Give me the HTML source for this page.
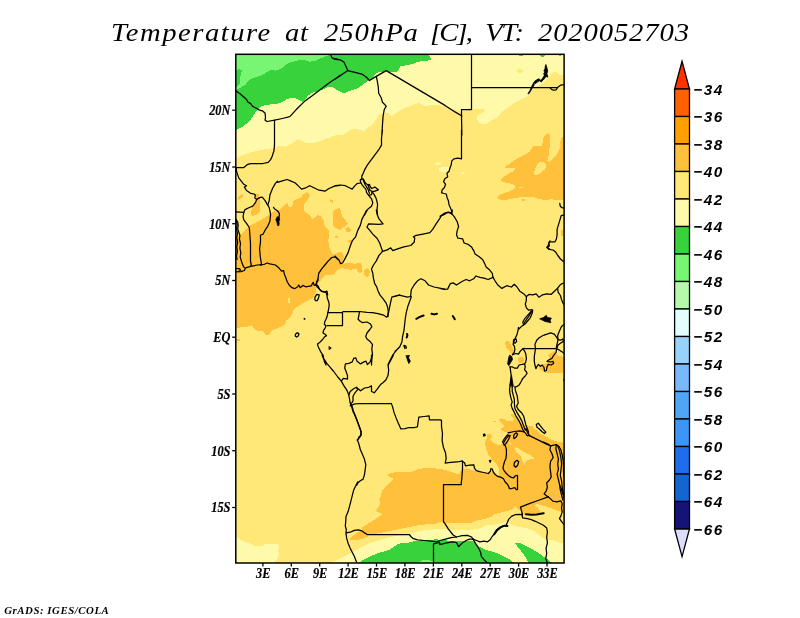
<!DOCTYPE html>
<html><head><meta charset="utf-8"><title>Temperature at 250hPa</title>
<style>
html,body{margin:0;padding:0;background:#fff;}
body{width:800px;height:618px;overflow:hidden;position:relative;font-family:"Liberation Serif",serif;}
svg{position:absolute;left:0;top:0;will-change:transform;}
.ttl{font-family:"Liberation Serif",serif;font-style:italic;font-size:25.6px;fill:#000;}
.tk text{font-family:"Liberation Serif",serif;font-style:italic;font-weight:bold;font-size:14px;fill:#000;stroke:#000;stroke-width:0.2px;}
.cb text{font-family:"Liberation Sans",sans-serif;font-style:italic;font-weight:bold;font-size:15.3px;letter-spacing:1.5px;fill:#000;}
.ft{font-family:"Liberation Serif",serif;font-style:italic;font-weight:bold;font-size:10.8px;letter-spacing:0.55px;fill:#000;}
</style></head>
<body>
<svg width="800" height="618" viewBox="0 0 800 618">
<defs><clipPath id="mc"><rect x="235.8" y="54.3" width="328.3" height="508.7"/></clipPath></defs>
<rect x="0" y="0" width="800" height="618" fill="#fff"/>
<text class="ttl" transform="translate(111.00,41.3) scale(1.12,1)" style="letter-spacing:1.339px">Temperature</text>
<text class="ttl" transform="translate(285.00,41.3) scale(1.12,1)" style="letter-spacing:0.696px">at</text>
<text class="ttl" transform="translate(324.00,41.3) scale(1.12,1)" style="letter-spacing:0.857px">250hPa</text>
<text class="ttl" transform="translate(430.00,41.3) scale(1.12,1)" style="letter-spacing:-1.679px">[C],</text>
<text class="ttl" transform="translate(485.20,41.3) scale(1.12,1)" style="letter-spacing:-1.187px">VT:</text>
<text class="ttl" transform="translate(538.00,41.3) scale(1.12,1)" style="letter-spacing:0.768px">2020052703</text>
<g clip-path="url(#mc)">
<rect x="235.8" y="54.3" width="328.3" height="508.7" fill="#ffe878"/>
<g shape-rendering="crispEdges">
<polygon fill="#fffaaa" points="235.8,54.4 564.6,54.4 565.0,75.4 563.0,75.4 558.9,74.8 556.1,72.0 553.3,72.0 550.6,75.4 547.2,79.6 543.0,83.7 537.5,86.5 533.4,89.2 530.0,94.0 525.2,97.5 519.6,100.2 514.1,103.0 510.0,106.4 505.9,109.1 501.8,111.9 499.0,116.0 494.9,118.8 490.8,120.8 486.6,123.6 481.1,123.6 477.7,121.5 477.0,117.4 478.4,114.6 483.9,111.9 485.3,109.1 479.8,108.5 471.5,108.9 461.9,111.9 456.7,110.5 450.2,107.4 445.0,105.7 431.3,105.0 425.8,106.4 418.9,103.0 412.0,105.0 399.6,110.5 391.4,116.0 388.0,112.6 379.0,114.6 374.9,121.5 364.6,131.2 352.9,128.4 343.3,135.0 336.2,135.0 327.7,138.2 319.2,141.4 310.7,143.5 304.4,142.4 298.0,139.2 291.6,143.5 285.2,146.7 278.9,145.6 272.5,148.2 261.9,149.9 251.2,152.0 242.7,155.2 236.4,158.4 235.8,158.4"/>
<polygon fill="#37d23c" points="235.8,54.4 428.3,54.1 431.1,59.6 426.3,61.0 418.0,61.7 413.9,63.8 407.0,65.1 400.2,66.5 398.8,69.3 396.0,72.0 390.5,72.0 386.4,70.6 383.0,72.7 380.9,72.0 377.5,72.7 374.7,74.8 372.6,78.2 368.5,80.3 363.0,84.4 357.5,88.5 350.6,90.6 343.8,93.3 335.9,89.2 331.8,87.1 327.7,87.1 323.5,89.2 318.0,91.3 312.5,92.6 308.4,95.4 305.0,99.5 302.9,102.0 298.8,100.2 296.0,98.4 290.5,98.1 286.4,99.5 282.3,102.0 276.8,103.9 271.3,104.3 265.8,105.0 260.3,106.7 256.8,110.5 254.1,114.6 250.6,119.5 246.5,123.6 242.4,127.0 238.3,129.1 235.8,130.1"/>
<polygon fill="#78f573" points="235.8,54.4 330.4,54.5 326.3,56.2 320.8,58.3 315.3,61.0 309.8,61.7 305.7,60.3 301.5,59.9 296.0,61.0 290.5,62.4 286.4,64.4 282.3,67.9 278.1,69.9 275.4,70.6 271.3,69.9 267.1,72.0 263.0,74.8 257.5,76.8 252.0,78.2 248.6,80.9 245.8,84.4 242.4,86.5 238.9,88.5 235.8,90.2"/>
<polygon fill="#37d23c" points="235.5,69.9 239.6,69.3 241.7,70.6 241.0,74.1 240.3,77.5 240.3,82.3 238.3,85.8 235.5,87.1"/>
<polygon fill="#37d23c" points="519.0,54.5 523.1,54.5 522.4,55.8 519.6,55.8"/>
<polygon fill="#37d23c" points="538.9,54.5 545.8,54.5 544.4,56.6 541.0,56.6"/>
<polygon fill="#37d23c" points="558.9,54.5 561.6,54.5 560.9,55.8 559.3,55.8"/>
<polygon fill="#ffe878" points="516.2,69.9 519.6,69.0 523.1,70.6 522.4,72.7 518.3,72.7"/>
<polygon fill="#ffc03c" points="235.5,235.0 241.0,234.3 245.1,230.9 248.6,226.1 253.4,224.0 258.9,221.3 264.4,217.8 268.5,215.1 271.3,213.0 275.4,210.9 279.5,209.6 282.3,206.8 285.0,204.8 287.8,202.7 288.5,206.1 290.5,207.5 292.6,204.8 292.6,201.3 296.0,199.3 300.2,197.9 302.9,195.1 305.7,192.4 308.4,192.7 309.8,195.1 308.4,198.6 305.7,202.0 303.6,206.1 303.6,209.6 305.7,212.3 308.4,214.4 311.2,217.1 312.5,219.2 315.3,217.1 318.0,215.1 320.8,216.5 323.5,219.9 323.5,224.0 326.3,227.5 329.0,230.9 329.0,235.0 328.3,240.5 329.0,246.0 330.4,250.2 332.5,254.3 331.3,254.6 335.4,253.9 338.8,251.8 342.3,252.5 344.3,255.9 343.0,260.1 342.3,263.5 345.0,263.5 350.5,262.8 354.6,264.2 356.7,262.8 360.2,262.8 362.2,266.3 362.2,271.1 360.2,273.8 357.4,270.4 356.0,269.0 350.5,269.7 345.0,269.0 340.9,267.6 336.8,270.4 334.7,273.8 331.3,275.2 327.1,274.5 323.7,276.6 320.9,280.0 318.9,282.8 316.8,286.2 316.1,290.3 315.4,293.8 312.7,297.9 307.9,300.7 302.4,303.4 298.3,306.2 294.1,308.9 292.6,312.3 290.5,317.1 286.4,320.5 285.0,324.6 279.5,327.4 274.0,329.5 269.9,332.2 269.2,335.4 265.8,335.0 263.0,331.5 257.5,330.8 254.1,328.8 252.0,325.3 247.9,326.7 241.0,327.4 235.5,328.1"/>
<polygon fill="#ffc03c" points="237.6,197.2 243.1,193.8 243.8,195.1 240.3,199.3 237.6,199.9"/>
<polygon fill="#ffc03c" points="250.6,211.6 252.7,206.8 255.4,202.7 257.5,200.6 256.1,197.2 255.4,194.4 258.9,193.8 259.6,197.2 259.6,202.7 260.3,207.5 259.6,212.3 256.1,215.1 252.0,216.0 250.6,213.7"/>
<polygon fill="#ffc03c" points="329.7,199.3 333.2,199.9 332.5,202.7 330.4,202.0"/>
<polygon fill="#ffc03c" points="333.2,211.6 335.9,208.9 339.8,208.2 341.2,212.3 341.9,216.5 345.3,219.9 348.1,224.0 345.3,226.1 342.6,227.5 340.5,230.2 340.0,229.5 335.9,228.1 333.2,225.4 332.5,221.3"/>
<polygon fill="#ffc03c" points="345.3,228.1 348.8,227.5 351.5,229.5 350.1,232.3 346.0,232.0"/>
<polygon fill="#ffc03c" points="348.1,240.5 353.6,239.8 352.9,243.3 348.8,243.3"/>
<polygon fill="#ffc03c" points="335.2,235.7 338.0,235.7 338.0,237.8 335.2,237.8"/>
<polygon fill="#ffe878" points="288.5,202.7 291.9,202.0 291.9,206.8 289.1,207.5"/>
<polygon fill="#ffe878" points="287.8,298.5 289.8,298.2 289.8,302.6 287.5,303.7"/>
<polygon fill="#ffc03c" points="365.0,269.0 367.7,268.3 369.8,271.1 369.1,275.9 366.3,277.3 364.3,274.5 364.3,271.1"/>
<polygon fill="#ffc03c" points="332.6,225.0 336.8,227.8 339.5,229.8 343.0,227.8 345.0,225.0"/>
<polygon fill="#ffc03c" points="345.7,227.8 349.1,227.1 351.2,229.8 349.1,232.6 345.7,231.2"/>
<polygon fill="#ffc03c" points="335.4,236.0 338.1,236.0 338.1,238.1 335.4,238.1"/>
<polygon fill="#ffc03c" points="348.5,240.1 351.2,239.4 351.9,242.2 349.1,242.9"/>
<polygon fill="#ffc03c" points="235.5,339.1 240.3,339.1 239.6,341.2 235.5,341.8"/>
<polygon fill="#ffc03c" points="546.5,133.9 549.2,133.3 550.2,138.8 549.9,145.6 548.9,152.5 548.3,158.0 547.2,161.0 549.6,161.9 553.3,158.7 556.8,154.2 559.3,149.8 560.6,145.6 559.8,142.2 561.6,138.1 563.7,135.3 563.7,200.0 558.2,200.4 551.3,199.3 544.4,200.0 537.5,198.6 532.0,196.5 526.5,196.5 521.0,197.2 515.5,197.9 510.0,199.3 503.1,200.0 499.0,199.3 497.0,197.2 500.4,194.5 505.9,192.4 510.0,191.0 514.1,189.0 515.5,186.2 512.8,184.1 507.3,182.8 502.5,182.1 501.1,180.0 503.1,177.3 506.6,175.2 510.0,172.5 514.1,171.1 515.5,169.0 512.8,167.6 508.0,168.3 505.2,167.6 505.9,165.6 509.3,164.2 512.8,161.5 516.9,158.7 521.0,156.6 525.2,154.6 529.3,151.8 531.3,149.1 532.7,146.3 537.5,145.6 541.7,145.6 543.0,141.5 543.7,137.4 545.1,135.3"/>
<polygon fill="#ffe878" points="534.1,173.1 534.8,169.0 536.8,164.9 539.6,162.4 543.0,162.1 545.8,164.2 546.5,167.0 544.4,169.7 541.0,172.5 537.5,175.2 534.8,175.6"/>
<polygon fill="#ffe878" points="519.0,186.9 523.1,186.9 523.1,188.0 519.0,188.0"/>
<polygon fill="#ffc03c" points="522.4,198.6 524.5,198.6 524.5,200.7 522.4,200.7"/>
<polygon fill="#fffaaa" points="461.2,173.1 463.0,171.8 464.6,173.1"/>
<polygon fill="#ffc03c" points="560.5,230.1 564.6,229.4 564.6,236.3 561.2,235.6"/>
<polygon fill="#fffaaa" points="434.6,163.7 438.1,161.9 440.8,163.7 440.1,164.7 434.6,164.7"/>
<polygon fill="#fffaaa" points="439.4,167.8 444.3,166.9 449.1,167.1 448.4,170.6 444.3,172.0 439.4,171.3"/>
<polygon fill="#fffaaa" points="461.0,172.9 463.2,172.0 464.9,173.7 461.0,173.7"/>
<polygon fill="#ffc03c" points="505.2,342.0 507.6,340.8 510.0,342.6 511.8,346.2 513.7,349.9 514.9,352.9 513.7,354.7 511.2,353.5 508.8,350.5 506.4,347.5 505.2,344.4"/>
<polygon fill="#ffc03c" points="518.5,357.8 520.9,356.8 523.4,357.8 524.0,361.4 522.2,363.2 519.1,362.6 517.9,360.2"/>
<polygon fill="#ffc03c" points="548.3,355.3 551.9,352.3 554.9,351.1 556.1,354.1 558.0,355.9 562.8,356.6 564.6,357.2 564.6,372.9 558.0,373.3 551.9,372.9 547.0,373.5 543.4,371.7 539.8,369.3 538.5,366.9 542.2,365.0 546.4,363.2 549.5,360.2 548.9,357.2"/>
<polygon fill="#ffc03c" points="522.8,346.6 524.6,346.6 524.6,347.8 522.8,347.8"/>
<polygon fill="#fffaaa" points="331.1,563.2 335.9,559.7 335.0,561.1 339.1,559.0 344.6,556.3 350.1,553.5 355.6,550.1 361.1,547.3 366.6,544.6 373.5,541.8 380.4,539.8 387.3,537.7 394.1,536.3 401.0,535.0 407.9,534.0 412.0,532.9 417.5,531.5 424.4,530.1 431.3,529.5 438.2,528.5 440.0,528.8 446.9,529.5 453.8,530.1 460.6,530.4 467.5,530.1 474.4,529.5 481.3,528.1 484.0,526.0 488.1,524.9 495.0,524.6 500.5,523.3 504.6,521.9 508.8,521.9 511.5,524.6 517.0,526.7 522.5,527.4 529.4,528.8 534.9,531.5 539.0,535.0 543.2,538.4 547.3,539.8 548.2,539.6 553.0,540.0 556.9,541.5 560.8,543.0 564.7,543.4 564.6,564.0"/>
<polygon fill="#fffaaa" points="235.5,536.3 239.6,539.1 245.1,541.8 250.6,543.9 256.1,546.4 261.6,546.4 264.4,544.2 271.3,543.9 278.1,544.2 279.2,547.3 278.1,550.8 279.5,553.5 278.1,557.7 275.4,561.1 274.0,563.4 235.5,563.4"/>
<polygon fill="#37d23c" points="357.7,563.2 362.5,560.4 368.0,557.4 373.5,554.9 379.0,552.8 384.5,551.5 390.0,549.4 394.1,546.6 398.3,543.9 403.8,542.5 409.3,542.5 414.8,540.9 420.3,540.5 425.8,539.8 431.3,539.8 436.8,539.2 440.0,539.8 446.9,540.5 453.8,540.9 460.6,540.5 467.5,540.5 473.0,541.1 477.1,544.6 481.3,548.0 486.8,550.1 492.3,551.5 497.8,553.5 503.3,556.3 508.8,559.0 512.9,561.8 514.3,563.4"/>
<polygon fill="#37d23c" points="515.2,543.5 519.9,542.8 525.9,546.2 532.6,549.5 539.4,553.5 544.7,557.6 548.8,560.3 551.5,562.3 552.1,563.6 528.6,563.6 526.6,558.9 523.2,553.5 519.2,548.8 516.5,545.5"/>
<polygon fill="#78f573" points="417.5,563.2 421.7,560.7 425.8,559.7 431.3,560.7 435.4,561.8 436.8,563.2"/>
<polygon fill="#ffc03c" points="350.1,538.4 352.9,535.6 357.0,532.9 361.8,530.1 362.5,527.4 366.6,524.6 372.1,521.2 377.6,517.8 382.5,514.3 380.4,512.9 375.6,510.9 377.6,508.1 380.4,504.0 379.0,499.9 381.1,495.8 381.8,490.3 385.9,486.1 391.3,481.2 394.0,479.1 389.9,477.0 387.8,475.0 390.6,472.9 396.8,472.2 405.0,472.2 411.9,471.5 417.4,469.5 424.3,468.1 432.5,468.1 439.4,468.8 446.3,470.2 451.8,472.2 455.9,473.6 460.0,474.3 460.5,471.5 461.9,468.8 467.4,468.8 470.0,469.6 473.9,470.1 475.8,471.6 479.7,472.2 483.6,473.2 488.4,473.8 490.6,471.3 492.3,470.1 493.8,472.5 495.7,474.8 498.2,476.1 499.1,473.0 499.1,469.1 497.2,465.2 494.3,461.4 491.4,458.4 488.4,454.6 486.5,449.7 485.0,443.9 484.6,440.0 485.3,441.1 486.7,438.9 487.5,436.8 487.1,434.6 488.6,433.5 490.7,434.6 492.2,436.4 490.7,438.6 490.0,440.0 492.6,441.9 495.5,444.0 498.4,444.8 501.3,444.4 503.1,443.0 504.9,439.7 507.1,435.3 507.9,433.1 507.1,432.4 503.5,431.3 501.3,430.2 501.3,428.4 503.5,427.3 504.2,425.5 502.0,423.7 499.8,421.5 499.1,419.3 501.3,418.2 504.2,419.3 507.1,421.1 510.0,421.5 513.0,420.7 514.4,419.3 513.0,417.8 511.1,416.0 511.5,414.2 513.3,413.8 514.8,415.6 515.9,417.8 517.7,419.3 520.2,422.2 523.2,424.4 526.1,425.1 529.0,425.8 533.0,426.6 533.2,427.6 536.2,430.1 539.2,433.1 543.2,435.1 547.2,437.1 551.3,439.6 555.3,441.1 559.3,442.1 564.8,442.7 564.9,513.2 560.9,511.9 556.8,510.5 551.5,508.5 546.1,506.5 540.7,505.2 536.7,503.8 534.7,505.2 538.0,507.8 540.0,511.2 539.4,513.9 534.0,515.2 527.3,515.2 521.9,513.9 520.5,511.2 517.2,508.5 515.2,505.8 513.8,507.8 511.1,509.9 505.8,511.2 500.4,512.6 495.0,513.9 490.9,517.1 484.0,519.1 477.1,520.5 471.6,522.6 464.8,523.3 457.9,523.3 451.0,523.3 445.5,522.6 440.0,521.9 438.2,523.3 431.3,524.0 424.4,524.6 417.5,525.3 410.7,526.7 403.8,528.1 396.9,529.5 390.0,530.8 383.1,532.2 376.3,533.6 368.7,535.0 367.3,537.0 362.5,539.1 355.6,539.8 350.1,540.5"/>
<polygon fill="#ffe878" points="515.0,448.0 517.0,447.3 521.2,450.0 525.3,452.8 530.8,455.5 534.9,458.3 529.4,459.6 526.0,461.0 524.6,465.2 522.5,461.0 521.2,456.9 517.7,453.5 515.4,450.0"/>
<polygon fill="#ffc03c" points="492.9,421.1 495.8,421.1 495.8,421.8 492.9,421.8"/>
<polygon fill="#ffe878" points="508.6,441.1 511.5,443.3 510.8,444.8 508.6,443.3"/>
</g>
<g fill="none" stroke="#000" stroke-width="1.25" stroke-linejoin="round" stroke-linecap="round">
<polyline points="235.2,90.3 240.3,94.0 244.4,97.5 246.5,99.5 247.9,102.0 250.6,103.6 252.7,106.4 255.4,107.8 258.9,109.8 263.0,111.2 265.1,113.3 265.5,117.4 265.1,120.2 267.1,121.5 274.7,120.2 282.3,118.5 289.8,116.7 296.0,109.8 304.3,101.6 312.5,95.4 320.8,89.2 329.0,83.0 340.0,75.4 335.0,79.3 347.8,70.6"/>
<polyline points="274.5,120.2 274.5,135.0 274.5,130.0 274.5,138.3 274.5,145.1 274.0,150.6 272.0,156.8 270.6,159.6 268.2,162.3 263.0,163.5 256.1,163.5 250.6,163.7 247.2,164.7 243.8,167.5 235.2,167.5"/>
<polyline points="330.4,54.1 331.8,57.6 335.2,59.4 340.0,59.9 335.0,58.5 340.5,59.9 343.9,62.1 346.0,66.5 347.8,70.6"/>
<polyline points="347.8,70.6 354.9,72.3 361.8,74.1 365.9,76.8 369.4,80.5 376.3,76.4 386.2,70.6 445.0,105.4 455.0,111.9 461.9,116.0"/>
<polyline points="376.3,76.4 377.4,81.6 378.3,87.1 378.7,93.3 381.1,97.5 382.5,102.3 386.2,106.1 384.2,109.8 383.1,116.0 382.5,124.3 381.8,135.0 382.5,130.0 381.5,138.3 381.5,145.1 379.0,149.3 374.9,154.8 370.8,160.3 367.3,165.1 364.6,169.9 363.2,173.3 361.8,176.1 361.8,178.8 360.4,180.2"/>
<polyline points="471.5,53.9 471.5,109.5 461.5,109.5 461.5,116.0 461.9,135.0 461.5,130.0 461.5,158.9 458.0,158.2 453.9,158.9 451.8,160.9 451.1,165.1 449.8,168.5 449.1,171.3 447.0,173.3 447.7,176.8 444.9,178.8 443.6,181.6 445.6,184.3 444.3,187.8 442.2,189.8 441.5,192.6 443.6,193.5 446.3,194.0 447.0,197.4 448.4,200.8 449.1,205.0 450.4,207.7 451.8,211.2 451.8,213.9 452.4,210.0 451.0,212.8"/>
<polyline points="451.8,213.9 449.1,212.5 445.6,213.2 442.9,215.0"/>
<polyline points="471.5,87.5 549.9,87.5 551.3,89.2 553.3,90.2 556.1,89.9 557.5,87.5 560.9,85.1 565.0,84.4"/>
<polyline points="549.9,87.5 557.5,87.5"/>
<polygon fill="#000" stroke-width="0.8" points="528.1,93.3 530.1,90.3 531.4,87.1 533.0,83.9 534.6,81.3 536.9,79.7 539.1,78.7 540.8,80.6 542.7,78.1 544.3,75.5 543.7,73.2 544.6,72.6 544.0,70.3 545.0,69.0 545.2,66.4 545.9,64.5 546.9,67.7 547.7,70.9 546.9,73.8 547.9,77.1 545.9,76.6 544.6,78.4 543.0,80.3 541.1,82.1 539.6,80.8 537.5,81.8 535.9,83.5 534.3,82.9 534.0,85.5 532.3,87.9 530.7,91.1 528.8,93.7"/>
<polyline points="235.8,167.1 236.9,172.6 238.9,178.1 241.7,181.6 243.8,184.3 246.5,185.7 244.4,187.1 246.5,190.5 250.6,193.3 254.1,194.0 255.4,195.3 254.8,198.1 256.8,199.5"/>
<polyline points="256.8,199.3 259.6,197.6 262.3,197.2 265.1,200.6 267.1,204.1 269.2,207.5 270.6,214.4 269.9,221.3 267.8,226.1 265.1,230.2 263.0,234.3 260.5,235.0 260.5,241.9 259.6,248.8 260.3,257.0 261.6,265.0 260.3,265.0"/>
<polyline points="256.8,199.3 255.4,202.7 252.7,206.1 249.3,207.5 245.1,209.6 243.8,212.3 235.2,211.9"/>
<polyline points="243.8,212.3 243.1,216.5 243.8,219.9 246.5,223.3 249.3,227.5 249.9,235.0 250.5,243.3 250.5,251.5 250.5,261.2 251.3,265.0 250.6,266.4"/>
<polyline points="235.4,218.6 237.7,222.0 238.2,225.4 237.7,228.8 238.8,232.2 239.9,235.6 239.4,239.0 240.5,243.5 239.9,248.1 240.8,252.6 240.2,257.1 241.6,261.7 243.3,266.2 244.5,267.9"/>
<polyline points="236.3,219.7 237.1,224.3 236.5,228.8 237.4,233.3 236.8,237.9 237.7,242.4 236.8,246.9 237.4,251.5 236.5,256.0 237.0,259.4"/>
<polyline points="235.4,268.5 239.4,268.5 240.5,270.2 238.8,271.3"/>
<polyline points="267.8,205.0 269.2,200.6 269.9,195.1 272.6,188.3 275.4,183.4 277.5,181.1 277.5,182.3 282.3,180.9 287.1,179.5 290.5,180.9 295.3,183.0 298.8,186.4 301.5,189.1 305.7,187.8 309.8,185.7 313.9,187.8 318.0,189.8 324.9,191.2 329.0,188.5 334.5,186.1 340.0,185.4 335.0,185.7 340.5,185.0 345.3,185.7 349.4,187.8 352.2,189.1 354.3,186.4 357.0,183.6 360.4,183.0"/>
<polyline points="273.5,207.3 274.7,209.0 276.7,210.2 278.3,211.7 279.3,213.6 279.4,215.5 278.8,217.0"/>
<polygon fill="#000" stroke-width="0.8" points="277.1,217.0 279.1,216.7 279.7,219.4 278.9,221.4 279.2,223.8 278.7,225.7 277.6,225.5 277.2,223.3 276.7,221.4 275.8,219.7 276.7,218.2"/>
<polygon points="360.4,179.5 363.2,178.8 364.6,181.6 365.9,183.6 368.0,185.0 369.4,184.3 370.1,186.4 371.5,188.5 374.9,187.1 378.3,189.8 374.9,191.2 372.1,191.9 371.5,194.6 368.7,195.3 366.6,192.6 365.9,189.1 363.9,187.1 361.8,184.3 360.4,181.6"/>
<polyline points="363.2,180.2 365.3,185.0 368.0,189.1 369.4,193.3"/>
<polyline points="368.0,185.0 370.1,190.5 371.9,191.2"/>
<polyline points="372.1,191.9 374.2,194.6 376.3,198.8 377.6,204.3 377.0,209.8 377.6,215.0 376.3,210.0 377.0,214.1 379.0,218.9 383.1,223.8 379.0,224.4 368.7,223.8 366.9,227.2 369.4,229.9 372.8,234.1 377.0,238.2 379.7,243.0 381.1,247.1 382.5,251.3"/>
<polyline points="368.7,195.3 371.5,198.8 372.8,202.9 371.5,206.3 368.0,209.1 365.9,211.2 364.6,215.0 367.3,210.0 364.6,214.1 361.8,219.6 360.4,225.1 357.7,230.6 355.6,236.8 352.2,240.9 350.1,246.5 348.1,252.6 345.3,258.1 342.6,263.0 340.5,263.6 339.1,260.2 336.4,257.5 335.0,256.1 338.0,259.5 335.2,256.8 331.8,257.5 328.3,260.9 324.9,265.0 321.5,269.1 318.7,273.3 318.0,278.8 316.0,285.0"/>
<polyline points="235.2,271.9 241.0,271.6 244.4,270.5 245.8,267.8 250.6,266.4 257.5,265.0 264.4,264.3 267.1,263.0 269.9,263.9 275.4,265.0 278.8,267.8 281.6,271.2 283.6,270.5 284.3,274.0 285.7,277.4 287.1,281.5 289.1,285.0 291.9,287.7 294.6,288.7 297.4,287.0 298.8,285.0 300.2,287.7 302.9,285.4 305.7,286.8 311.2,285.9 313.2,282.2 314.2,285.4 316.0,285.0 317.3,287.0 319.4,289.1 321.5,291.2 324.9,291.8 327.0,291.2 327.7,295.0"/>
<polyline points="382.5,251.3 387.3,249.9 390.7,247.8 392.8,250.6 396.9,249.2 403.8,246.9 410.7,245.5 414.1,242.3 414.8,238.2 413.4,236.8 416.2,235.4 423.0,234.1 429.9,232.7 432.7,229.3 436.1,223.8 439.5,218.9 441.6,215.5 445.0,214.1 440.0,216.2 444.1,213.4 448.3,212.1 451.0,212.8"/>
<polyline points="382.5,251.3 379.0,255.4 376.3,260.9 373.5,265.0 371.5,269.1 372.8,273.3 373.5,278.8 373.9,280.0 374.6,283.4 376.7,286.9 378.0,291.0 380.1,295.1 383.5,299.3 386.3,303.4 387.7,307.5 388.3,311.6 387.7,316.5"/>
<polyline points="410.8,296.5 410.7,295.0 411.3,289.8 414.1,285.0 417.5,280.8 421.0,278.8 425.1,280.8 428.5,285.0 434.0,287.0 439.5,288.1 445.0,289.1 440.0,288.4 444.1,289.5 447.6,289.1 450.3,283.6 453.1,282.9 456.5,285.0 462.0,281.5 466.1,279.5 469.6,280.8 473.7,278.8 475.8,276.0 479.9,277.4 484.0,278.1 488.1,279.5 493.0,277.4"/>
<polyline points="451.0,212.8 454.4,216.9 457.2,221.7 458.6,226.5 457.2,230.6 456.5,234.8 457.9,238.2 462.7,238.9 464.1,243.0 468.2,244.4 471.6,247.1 473.7,250.6 475.1,254.0 479.2,256.8 482.6,259.5 484.7,263.6 486.1,267.1 489.5,269.8 492.3,273.3 493.0,277.4"/>
<polyline points="493.0,277.4 495.0,280.8 497.8,285.0 501.9,288.4 506.7,285.7 511.5,287.0 514.3,284.3 517.0,287.0 519.8,291.2 523.9,293.9 526.4,296.6"/>
<polyline points="526.4,296.6 529.3,294.3 532.7,294.9 536.1,293.8 538.9,297.2 542.3,294.9 546.8,293.8 551.3,294.3 554.7,291.0 557.6,288.1 559.8,285.3 562.1,283.6 564.9,283.0"/>
<polyline points="557.6,288.1 558.1,292.1 560.4,295.5 561.5,299.4 563.2,303.4 564.9,306.2"/>
<polyline points="564.6,214.9 561.2,215.6 559.8,220.4 558.5,224.6 557.1,229.4 557.1,234.9 556.4,239.0 555.0,241.8 550.2,241.8 548.8,243.1 548.1,245.9 546.8,247.3 548.8,249.3 553.0,250.0 555.7,252.1 557.8,255.5 560.5,259.0 564.6,262.4"/>
<polyline points="559.8,203.3 560.2,206.0 561.9,207.7 564.6,208.1"/>
<polyline points="550.0,240.9 548.7,243.0 549.4,245.8 547.3,247.8 550.0,249.2"/>
<polyline points="316.1,284.1 318.2,286.2 319.6,289.6 322.3,291.7 326.0,292.4 326.9,295.1 327.4,298.6 328.8,302.0 329.2,305.4 328.5,309.6 327.8,313.0 327.1,316.5 326.0,319.2 324.7,322.0 324.4,324.0 326.0,326.1 325.1,328.1 323.7,330.2 323.0,333.0 325.1,334.3 326.5,335.7 324.4,337.1 322.3,339.8 319.6,342.6 317.5,344.0 318.2,346.7 319.6,349.5 320.9,352.2 323.0,355.0 323.7,358.4 324.4,361.8 326.0,365.0 322.0,355.0 324.1,359.1 326.8,363.3 329.6,366.7 333.7,371.5 337.8,377.0 341.3,381.1 344.0,385.9 346.8,390.1 348.8,394.9 349.5,399.0 350.2,403.1 351.6,406.6 353.0,411.4 355.0,415.5 357.1,421.0 359.1,426.5 361.2,432.0 360.5,436.2 358.5,438.9 357.1,440.0"/>
<polyline points="316.1,284.1 316.8,281.4 318.2,280.0"/>
<polygon points="315.0,297.2 316.8,294.4 319.2,294.9 318.6,297.9 317.2,300.6 315.4,300.6 314.8,299.0"/>
<polygon fill="#000" stroke-width="0.8" points="304.3,318.4 305.1,318.4 305.1,319.3 304.3,319.3"/>
<polygon points="295.5,334.3 297.2,332.7 298.9,333.6 298.5,335.7 296.6,337.1 295.2,336.1"/>
<polygon fill="#000" stroke-width="0.8" points="329.2,346.7 331.3,348.1 329.5,349.5"/>
<polyline points="327.8,312.5 342.5,312.5 342.5,325.5 327.1,325.5"/>
<polyline points="342.3,312.7 343.0,311.5 351.9,311.5 359.5,311.5 367.0,312.3 372.5,312.7 378.0,313.7 383.5,315.1 386.3,317.1 387.7,316.5"/>
<polyline points="387.7,316.5 389.0,310.3 390.4,303.4 391.8,297.2 395.9,295.8 400.0,294.9 395.0,296.5 399.1,295.1 403.3,296.2 407.4,297.2 410.8,296.5"/>
<polyline points="410.8,296.5 411.2,297.2 409.4,302.0 407.7,306.8 406.3,312.3 405.3,318.5 404.6,324.7 403.9,330.9 402.6,336.4 401.9,341.9 399.8,346.7 396.4,350.2 395.0,351.3 396.6,350.2 393.2,354.3 391.1,358.4 389.0,362.5 388.3,365.0 393.5,355.0 392.2,357.1 390.1,360.5 388.0,364.6 388.7,370.1 388.0,375.6 386.0,379.8 383.2,382.5 380.5,384.6 377.0,389.4 374.3,392.8 371.5,391.5 371.5,385.9 368.8,387.3 364.6,388.0 360.5,390.8 356.4,387.3"/>
<polyline points="359.5,311.6 358.8,315.8 358.1,319.2 360.2,321.3 362.2,322.6 367.0,322.0 370.5,324.0 371.8,326.8 369.8,329.5 367.0,333.0 365.7,336.4 367.0,339.1 369.8,341.2 372.5,344.6 371.8,348.8 372.5,354.3 371.8,359.8 371.5,365.0 371.5,355.0 371.5,357.8 370.2,361.9 367.4,364.6 366.0,361.2 364.0,361.9 360.5,363.9 357.1,361.2 355.7,357.8 353.6,358.4 352.3,361.9 348.8,363.3 345.4,363.9 344.7,368.1 346.1,371.5 347.5,375.6 347.5,379.1 343.3,378.4 341.3,381.1"/>
<polyline points="348.8,394.9 350.2,391.5 353.6,388.7 356.4,387.3 357.8,389.4 355.0,392.8 353.0,396.3 353.0,401.1 351.6,403.1"/>
<polyline stroke-width="2.0" points="416.3,318.8 419.8,316.9 423.6,315.5"/>
<polyline stroke-width="2.0" points="431.5,313.7 434.2,314.4 437.0,313.7"/>
<polyline stroke-width="2.0" points="452.8,316.0 454.8,319.2"/>
<polyline stroke-width="2.0" points="407.1,333.9 407.4,335.7 406.7,337.5"/>
<polygon points="403.9,345.3 406.0,346.0 406.3,348.1 404.6,348.1"/>
<polygon fill="#000" stroke-width="0.8" points="406.3,355.7 409.4,355.4 408.5,357.7 410.4,361.2 408.8,363.6 407.4,359.8 406.7,357.7"/>
<polyline points="526.4,296.6 526.2,301.1 525.3,304.0 526.4,307.9 528.7,310.2 532.1,309.6"/>
<polygon points="532.7,310.2 532.1,313.6 530.4,317.6 527.6,321.0 525.3,323.8 523.6,324.9 522.8,322.1 524.7,318.7 527.6,315.3 530.4,312.1"/>
<polyline points="531.5,311.9 528.7,316.4 525.9,320.4 523.9,323.5"/>
<polyline points="523.6,324.9 521.3,326.6 519.1,328.9 518.5,327.4 517.9,331.1 516.7,335.3 514.9,339.0 513.7,342.0 513.1,344.4 514.3,346.2 514.9,349.3 514.3,352.3 512.5,354.7"/>
<polygon fill="#000" stroke-width="0.8" points="540.0,318.7 543.4,317.6 546.3,315.3 547.4,317.6 551.3,318.1 550.2,320.4 550.8,322.7 548.0,322.1 545.1,321.5 542.9,320.4"/>
<polyline points="564.9,323.8 561.5,326.6 559.3,331.2 557.6,335.7 558.1,340.0 558.0,339.6 557.0,344.4 556.1,348.7"/>
<polygon points="535.5,348.7 534.9,344.4 536.7,340.2 539.2,337.7 543.4,335.3 547.0,334.1 550.7,332.9 554.3,334.1 556.1,336.5 558.0,339.6 560.4,340.2 562.8,339.0 563.4,341.4 560.4,343.2 558.0,345.0 556.7,348.7 556.1,352.3 553.7,355.3 551.9,358.4 548.3,360.2 547.0,361.4 550.7,362.0 553.1,361.4 553.7,363.2 551.3,365.0 548.3,364.4 547.0,366.9 546.4,370.5 544.6,371.1 544.0,367.5 542.2,365.0 540.4,366.3 538.5,364.4 536.7,366.9 535.9,368.7 534.9,365.0 534.3,361.4 534.3,356.6 534.9,352.3"/>
<polyline points="522.8,348.5 535.5,348.5 555.5,348.5 558.0,349.3 564.9,353.8"/>
<polygon points="513.7,339.6 516.1,339.0 516.7,341.4 514.9,343.2 513.3,342.0"/>
<polyline points="512.5,354.7 516.1,353.5 518.5,354.1 520.3,351.1 522.8,348.7 524.6,351.1 525.8,354.1 526.4,358.4 525.8,362.0 524.6,363.8 522.2,364.4 519.1,365.0 517.3,368.1 514.3,368.1 512.5,366.9 510.0,366.9"/>
<polygon fill="#000" stroke-width="0.8" points="510.0,355.3 511.8,356.6 512.5,359.6 510.6,362.6 508.8,365.7 507.6,363.8 508.2,360.2 508.8,357.2"/>
<polyline points="524.6,363.8 525.2,366.9 524.6,369.9 526.4,371.7 527.0,373.5 525.2,376.0 522.8,378.4 520.9,382.0 519.1,385.1 517.3,386.3 515.5,386.9"/>
<polyline points="510.0,366.9 510.6,371.1 511.2,376.0 510.6,380.8 510.0,385.7 510.1,385.6 509.5,389.9 510.1,394.3 511.1,398.6 512.2,401.9 511.1,405.1 512.2,408.4 513.9,411.6 516.0,416.0 518.7,420.3 520.9,424.7 522.5,429.0 524.2,432.0 524.6,432.1 527.3,435.6"/>
<polyline points="512.2,386.1 512.2,391.0 513.3,395.4 514.4,399.7 514.4,404.0 514.9,408.4 517.1,412.7 519.8,417.1 522.0,421.4 523.6,425.7 525.2,430.1 526.0,428.7 528.0,433.5"/>
<polyline points="514.9,386.7 515.5,391.0 517.1,395.4 517.7,399.7 518.2,403.0 516.6,406.2 518.2,409.5 521.5,412.7 523.6,416.0 524.7,420.3 525.8,424.7 527.4,429.0 528.5,432.0 528.0,432.8 529.4,435.6 527.3,435.6"/>
<polygon fill="#000" stroke-width="0.8" points="510.1,385.6 511.5,375.3 513.3,386.1"/>
<polyline points="564.3,378.4 563.8,380.8"/>
<polyline points="350.2,405.9 355.0,403.8 360.5,403.5 368.8,403.5 377.0,403.5 385.3,403.5 391.5,403.5 391.3,403.4 392.6,406.9 394.0,412.4 396.1,417.9 398.1,422.7 400.9,428.9 405.0,428.6 409.1,427.5 414.6,427.5 417.4,426.8 418.1,422.0 418.8,417.2 424.3,416.5 429.1,415.8 429.5,419.9 435.3,419.9 440.1,419.9 441.5,420.4 441.5,426.6 442.5,433.5 442.1,440.4 443.4,447.3 445.5,452.8 446.2,458.3 445.2,463.1 448.3,462.7 453.8,462.1 459.3,461.7 462.0,461.0"/>
<polyline points="351.4,404.1 353.4,411.0 356.2,417.9 358.3,423.4 360.7,430.3 361.3,435.1 358.9,437.1 357.6,440.6 358.9,444.0 360.3,449.5 362.4,454.3 364.4,459.1 365.8,464.6 365.1,470.2 364.4,475.0 363.1,479.1 359.6,481.2 357.6,483.2 356.9,485.0 357.7,482.0 355.6,486.1 353.6,490.3 352.2,495.8 350.8,501.3 349.4,506.8 348.1,511.6 346.0,516.4 345.7,521.9 345.3,526.0 346.3,529.5 346.0,533.6 346.7,538.4 348.1,543.2 350.1,548.0 352.2,552.2 354.3,556.3 355.6,559.7 357.0,563.2"/>
<polyline points="462.5,461.0 462.5,469.3 461.7,480.0 461.3,482.0 461.3,484.5 443.5,484.5 443.5,521.9 444.8,523.3 448.3,528.8 453.1,535.0 456.5,537.0"/>
<polyline points="462.0,461.0 464.8,463.1 465.4,465.8 469.6,465.2 473.9,464.8 474.4,468.2 476.3,470.6 479.7,471.6 483.6,472.5 488.4,473.5 490.4,471.1 490.9,468.6 492.3,469.1 493.3,472.0 495.2,474.5 497.7,476.4 501.1,477.4 503.5,478.8 505.0,481.7 507.4,484.2 508.8,486.6 509.3,488.5 511.7,488.5 514.7,487.6 516.1,489.5 517.5,489.5 517.5,475.4 515.1,475.9 513.7,477.9 511.3,477.4 508.8,475.9 506.4,473.5 504.0,470.6 503.0,468.2 503.5,465.2 504.5,461.8 505.9,458.4 506.4,454.6 506.4,449.7 505.4,445.8 504.0,444.9"/>
<polygon points="504.0,444.5 502.6,441.8 504.6,438.3 507.4,434.9 510.2,435.6 508.8,439.0 506.7,442.5 504.6,444.8"/>
<polyline points="503.5,442.9 506.0,438.7 508.8,435.6"/>
<polyline points="508.1,432.8 514.3,431.5 519.8,430.8 523.9,431.9"/>
<polygon points="514.3,434.2 516.3,432.8 517.7,434.2 515.7,437.6 514.0,438.7 513.6,436.3"/>
<polygon points="536.3,424.6 538.3,423.2 540.4,425.9 543.2,429.4 545.9,432.1 544.5,433.5 541.8,431.5 539.0,428.7 537.0,427.3"/>
<polygon points="515.0,461.7 517.0,460.3 518.7,461.7 517.7,465.2 515.7,467.2 514.0,465.8 514.3,463.1"/>
<polygon points="483.5,434.3 484.8,434.1 485.1,435.7 483.7,436.0"/>
<polygon fill="#000" stroke-width="0.8" points="489.5,460.3 491.2,460.3 490.3,462.4"/>
<polyline points="529.4,435.6 533.5,437.6 539.0,440.4 544.5,443.1 548.7,445.2 543.5,442.0 547.4,443.9 550.6,445.9 553.8,445.2 556.4,444.6"/>
<polyline points="550.6,445.9 549.9,449.8 551.9,453.6 553.2,457.5 550.6,461.4 549.9,466.6 550.6,471.8 551.2,476.9 549.3,480.2 546.7,482.8 547.4,487.3 546.1,491.2 544.1,493.8 547.4,496.4 548.1,496.8"/>
<polyline points="556.4,444.6 555.8,448.5 557.1,453.6 558.4,458.8 557.7,464.0 558.4,469.2 557.1,474.4 558.4,479.5 559.6,484.7 560.3,489.9 561.6,495.1 562.9,500.0"/>
<polyline points="556.4,444.6 559.0,446.5 560.9,449.8 562.2,454.9 563.1,460.1 563.5,465.3 563.5,471.8 564.2,479.5 564.8,487.3"/>
<polyline points="557.7,445.9 559.6,451.1 560.9,457.5 561.6,464.0 560.9,470.5 560.3,475.6 561.6,480.8 562.2,487.3 563.1,492.5 563.9,497.6"/>
<polyline points="559.5,485.0 560.9,487.7 562.2,491.7 563.5,495.8"/>
<polyline points="346.3,532.9 350.1,532.2 354.3,530.4 358.4,529.9 361.8,530.8 364.6,532.9 367.3,534.5 376.3,534.5 390.0,534.5 409.3,534.5 411.3,537.0 413.4,538.7 417.5,539.8 424.4,540.5 431.3,541.1 436.8,541.8 440.0,540.5 445.5,539.1 451.0,537.7 456.5,537.0 462.0,535.6 467.5,535.4 471.6,537.0 473.0,539.1"/>
<polyline points="433.5,563.2 433.5,543.9 439.5,542.5 440.0,544.6 445.5,543.2 452.4,541.8 456.5,542.5 458.6,546.6 462.0,543.2 466.1,540.5 469.6,539.1 473.0,539.1"/>
<polyline points="473.0,539.1 476.5,540.5 479.9,541.8 484.0,541.1 487.5,541.8 490.2,539.8 492.3,536.3 494.3,533.6 496.4,530.1 499.1,528.1 502.6,526.0 506.0,525.3 507.4,522.6 508.8,519.1 511.5,516.4 515.0,514.7 519.8,514.3 522.5,515.0"/>
<polyline stroke-width="2.0" points="494.3,534.3 497.1,530.1 500.5,527.4 504.6,525.7 507.4,526.0"/>
<polyline points="473.0,539.1 475.8,543.9 478.5,548.0 480.6,552.2 481.3,556.3 484.0,559.7 486.8,562.5 488.1,563.4"/>
<polyline points="522.5,515.0 521.8,511.6 520.5,507.4 520.5,507.2 528.6,503.8 538.0,500.5 548.1,496.8"/>
<polyline points="548.1,496.8 550.1,498.4 552.8,501.1 556.8,501.8 560.9,500.9 562.2,503.8 561.5,507.8 562.2,511.9 560.9,515.9 559.5,518.6 561.5,521.3 563.5,524.0 564.9,525.3"/>
<polyline points="521.9,513.9 522.6,517.9 527.3,518.6 531.3,519.7 535.3,521.3 539.4,523.3 543.4,525.3 546.7,528.0 547.4,532.0 546.7,537.4 547.4,542.8 546.1,548.2 546.7,553.5 545.8,558.3 547.4,563.6"/>
<polyline stroke-width="2.0" points="525.9,514.3 531.3,514.8 536.7,514.6 542.0,513.5 543.7,513.2"/>
</g>
</g>
<rect x="235.8" y="54.3" width="328.3" height="508.7" fill="none" stroke="#000" stroke-width="1.5"/>
<g stroke="#000" stroke-width="1.3"><line x1="232.20000000000002" y1="110.2" x2="235.8" y2="110.2"/>
<line x1="232.20000000000002" y1="167.0" x2="235.8" y2="167.0"/>
<line x1="232.20000000000002" y1="223.7" x2="235.8" y2="223.7"/>
<line x1="232.20000000000002" y1="280.5" x2="235.8" y2="280.5"/>
<line x1="232.20000000000002" y1="337.2" x2="235.8" y2="337.2"/>
<line x1="232.20000000000002" y1="394.0" x2="235.8" y2="394.0"/>
<line x1="232.20000000000002" y1="450.7" x2="235.8" y2="450.7"/>
<line x1="232.20000000000002" y1="507.5" x2="235.8" y2="507.5"/>
<line x1="262.9" y1="563.0" x2="262.9" y2="566.6"/>
<line x1="291.3" y1="563.0" x2="291.3" y2="566.6"/>
<line x1="319.7" y1="563.0" x2="319.7" y2="566.6"/>
<line x1="348.1" y1="563.0" x2="348.1" y2="566.6"/>
<line x1="376.5" y1="563.0" x2="376.5" y2="566.6"/>
<line x1="404.9" y1="563.0" x2="404.9" y2="566.6"/>
<line x1="433.4" y1="563.0" x2="433.4" y2="566.6"/>
<line x1="461.8" y1="563.0" x2="461.8" y2="566.6"/>
<line x1="490.2" y1="563.0" x2="490.2" y2="566.6"/>
<line x1="518.6" y1="563.0" x2="518.6" y2="566.6"/>
<line x1="547.0" y1="563.0" x2="547.0" y2="566.6"/></g>
<g class="tk"><text transform="translate(230.4,115.0) scale(0.88,1)" text-anchor="end">20N</text>
<text transform="translate(230.4,171.8) scale(0.88,1)" text-anchor="end">15N</text>
<text transform="translate(230.4,228.5) scale(0.88,1)" text-anchor="end">10N</text>
<text transform="translate(230.4,285.3) scale(0.88,1)" text-anchor="end">5N</text>
<text transform="translate(230.4,342.0) scale(0.88,1)" text-anchor="end">EQ</text>
<text transform="translate(230.4,398.8) scale(0.88,1)" text-anchor="end">5S</text>
<text transform="translate(230.4,455.5) scale(0.88,1)" text-anchor="end">10S</text>
<text transform="translate(230.4,512.3) scale(0.88,1)" text-anchor="end">15S</text>
<text transform="translate(263.3,577.7) scale(0.88,1)" text-anchor="middle">3E</text>
<text transform="translate(291.7,577.7) scale(0.88,1)" text-anchor="middle">6E</text>
<text transform="translate(320.1,577.7) scale(0.88,1)" text-anchor="middle">9E</text>
<text transform="translate(348.5,577.7) scale(0.88,1)" text-anchor="middle">12E</text>
<text transform="translate(376.9,577.7) scale(0.88,1)" text-anchor="middle">15E</text>
<text transform="translate(405.3,577.7) scale(0.88,1)" text-anchor="middle">18E</text>
<text transform="translate(433.8,577.7) scale(0.88,1)" text-anchor="middle">21E</text>
<text transform="translate(462.2,577.7) scale(0.88,1)" text-anchor="middle">24E</text>
<text transform="translate(490.6,577.7) scale(0.88,1)" text-anchor="middle">27E</text>
<text transform="translate(519.0,577.7) scale(0.88,1)" text-anchor="middle">30E</text>
<text transform="translate(547.4,577.7) scale(0.88,1)" text-anchor="middle">33E</text></g>
<g stroke="#000" stroke-width="1.3" stroke-linejoin="miter"><polygon fill="#ff3200" points="674.6,89.0 682.05,61.3 689.5,89.0"/>
<rect fill="#ff6000" x="674.6" y="89.0" width="14.899999999999977" height="27.5"/>
<rect fill="#ffa000" x="674.6" y="116.5" width="14.899999999999977" height="27.5"/>
<rect fill="#ffc03c" x="674.6" y="144.0" width="14.899999999999977" height="27.5"/>
<rect fill="#ffe878" x="674.6" y="171.5" width="14.899999999999977" height="27.5"/>
<rect fill="#fffaaa" x="674.6" y="199.0" width="14.899999999999977" height="27.5"/>
<rect fill="#37d23c" x="674.6" y="226.5" width="14.899999999999977" height="27.5"/>
<rect fill="#78f573" x="674.6" y="254.0" width="14.899999999999977" height="27.5"/>
<rect fill="#b4faaa" x="674.6" y="281.5" width="14.899999999999977" height="27.5"/>
<rect fill="#e1ffff" x="674.6" y="309.0" width="14.899999999999977" height="27.5"/>
<rect fill="#96d2fa" x="674.6" y="336.5" width="14.899999999999977" height="27.5"/>
<rect fill="#78b9fa" x="674.6" y="364.0" width="14.899999999999977" height="27.5"/>
<rect fill="#50a5f5" x="674.6" y="391.5" width="14.899999999999977" height="27.5"/>
<rect fill="#3c96f5" x="674.6" y="419.0" width="14.899999999999977" height="27.5"/>
<rect fill="#1e6eeb" x="674.6" y="446.5" width="14.899999999999977" height="27.5"/>
<rect fill="#1464d2" x="674.6" y="474.0" width="14.899999999999977" height="27.5"/>
<rect fill="#141478" x="674.6" y="501.5" width="14.899999999999977" height="27.5"/>
<polygon fill="#dcdcff" points="674.6,529.0 682.05,556.6 689.5,529.0"/></g>
<g class="cb"><text x="693.3" y="94.5">−34</text>
<text x="693.3" y="122.0">−36</text>
<text x="693.3" y="149.5">−38</text>
<text x="693.3" y="177.0">−40</text>
<text x="693.3" y="204.5">−42</text>
<text x="693.3" y="232.0">−44</text>
<text x="693.3" y="259.5">−46</text>
<text x="693.3" y="287.0">−48</text>
<text x="693.3" y="314.5">−50</text>
<text x="693.3" y="342.0">−52</text>
<text x="693.3" y="369.5">−54</text>
<text x="693.3" y="397.0">−56</text>
<text x="693.3" y="424.5">−58</text>
<text x="693.3" y="452.0">−60</text>
<text x="693.3" y="479.5">−62</text>
<text x="693.3" y="507.0">−64</text>
<text x="693.3" y="534.5">−66</text></g>
<text class="ft" x="4.2" y="614.3">GrADS: IGES/COLA</text>
</svg>
</body></html>
